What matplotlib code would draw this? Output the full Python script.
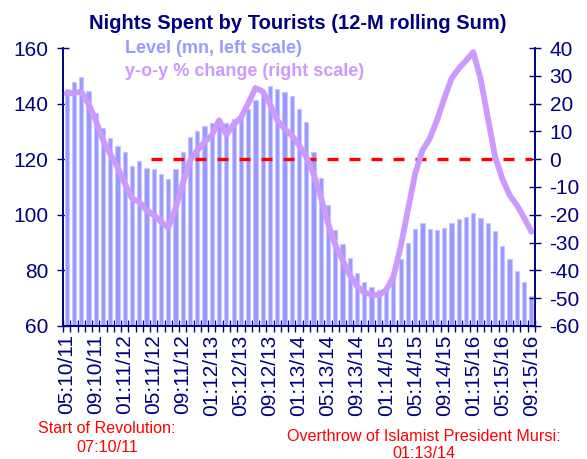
import numpy as np
import matplotlib
matplotlib.use("Agg")
import matplotlib.pyplot as plt

plt.rcParams['font.family'] = ['Liberation Sans', 'DejaVu Sans']
plt.rcParams['axes.unicode_minus'] = False

# 12-month rolling sum of nights, mn (left scale)
level = [145.4, 147.7, 149.6, 144.4, 136.8, 131.4, 127.6, 124.9, 122.7, 117.4,
         119.2, 117.0, 116.6, 114.5, 112.7, 116.4, 122.5, 127.9, 130.3, 132.1,
         132.9, 134.2, 133.0, 134.6, 135.5, 138.0, 141.4, 143.8, 146.3, 145.4,
         144.3, 142.7, 138.2, 133.5, 122.5, 113.3, 103.4, 94.4, 89.6, 84.4,
         79.2, 75.8, 74.0, 73.1, 73.6, 79.0, 84.0, 89.9, 95.0, 97.2,
         95.0, 94.4, 95.3, 97.2, 98.4, 99.3, 100.5, 99.0, 96.9, 94.2,
         88.9, 84.0, 79.8, 76.0, 70.8]

# y-o-y % change (right scale)
yoy = [23.6, 23.9, 24.2, 20.0, 14.0, 7.0, 2.0, -2.8, -8.7, -14.1,
       -15.4, -18.3, -20.1, -22.5, -24.6, -17.7, -8.7, -0.4, 3.2, 6.2,
       8.6, 14.0, 8.8, 12.5, 15.0, 20.0, 25.6, 24.4, 19.8, 14.0,
       11.0, 8.6, 5.0, 0.8, -5.2, -13.6, -23.1, -30.9, -36.3, -41.7,
       -45.7, -48.0, -48.7, -48.9, -47.1, -42.3, -31.5, -18.3, -5.2, 3.2,
       7.4, 14.0, 21.8, 29.0, 32.6, 35.5, 38.5, 29.0, 15.0, 1.0,
       -7.0, -12.9, -16.5, -21.0, -26.1]

tick_labels = ['05:10/11', '09:10/11', '01:11/12', '05:11/12', '09:11/12',
               '01:12/13', '05:12/13', '09:12/13', '01:13/14', '05:13/14',
               '09:13/14', '01:14/15', '05:14/15', '09:14/15', '01:15/16',
               '05:15/16', '09:15/16']

navy = '#000080'
x = np.arange(len(level))

fig = plt.figure(figsize=(5.87, 4.59), dpi=100)
ax = fig.add_axes([0.1073, 0.2898, 0.8041, 0.6056])
ax2 = ax.twinx()

# bars on the left scale
ax.bar(x, np.array(level) - 60, bottom=60, width=0.58, color='#9999FF',
       edgecolor='#C8C8FF', linewidth=0.8, zorder=2)
ax.set_ylim(60, 160)
ax.set_yticks(np.arange(60, 161, 20))
ax.set_xlim(-0.5, len(level) - 0.5)

# boundary ticks, labels every 4 months
ax.set_xticks(np.arange(-0.5, len(level), 1.0))
ax.set_xticklabels([])
ax.set_xticks(np.arange(0, len(level), 4), tick_labels, minor=True)
ax.tick_params(axis='x', which='major', direction='inout', length=9,
               color=navy, width=1)
ax.tick_params(axis='x', which='minor', length=0, rotation=90, pad=6,
               labelsize=15, labelcolor=navy)
ax.tick_params(axis='y', direction='inout', length=9, color=navy, width=1,
               labelsize=15, labelcolor=navy, pad=6)

# line and zero line on right scale
ax2.set_ylim(-60, 40)
ax2.set_yticks(np.arange(-60, 41, 10))
ax2.plot([11.6, 64.1], [0, 0], color='#FF0000', lw=2.4, dashes=(3.3, 3.3),
         zorder=3)
ax2.plot(x, yoy, color='#CC99FF', lw=4.2, solid_joinstyle='round',
         solid_capstyle='round', zorder=4)
ax2.tick_params(axis='y', direction='inout', length=9, color=navy, width=1,
                labelsize=15, labelcolor=navy, pad=6)

for a in (ax, ax2):
    a.spines['top'].set_visible(False)
    for s in ('left', 'right', 'bottom'):
        a.spines[s].set_color(navy)
        a.spines[s].set_linewidth(1.2)
ax.set_zorder(ax2.get_zorder() - 1)
ax.patch.set_visible(False)

fig.text(0.507, 0.948, 'Nights Spent by Tourists (12-M rolling Sum)',
         ha='center', va='center', fontsize=14.5, fontweight='bold', color=navy)
fig.text(0.213, 0.895, 'Level (mn, left scale)', ha='left', va='center',
         fontsize=13, fontweight='bold', color='#9999FF')
fig.text(0.213, 0.845, 'y-o-y % change (right scale)', ha='left', va='center',
         fontsize=13, fontweight='bold', color='#CC99FF')

red = '#FF0000'
fig.text(0.182, 0.066, 'Start of Revolution:', ha='center', va='center',
         fontsize=11.6, color=red)
fig.text(0.182, 0.026, '07:10/11', ha='center', va='center',
         fontsize=11.6, color=red)
fig.text(0.722, 0.050, 'Overthrow of Islamist President Mursi:', ha='center',
         va='center', fontsize=11.6, color=red)
fig.text(0.722, 0.013, '01:13/14', ha='center', va='center',
         fontsize=11.6, color=red)

fig.savefig('out.png', dpi=100)
